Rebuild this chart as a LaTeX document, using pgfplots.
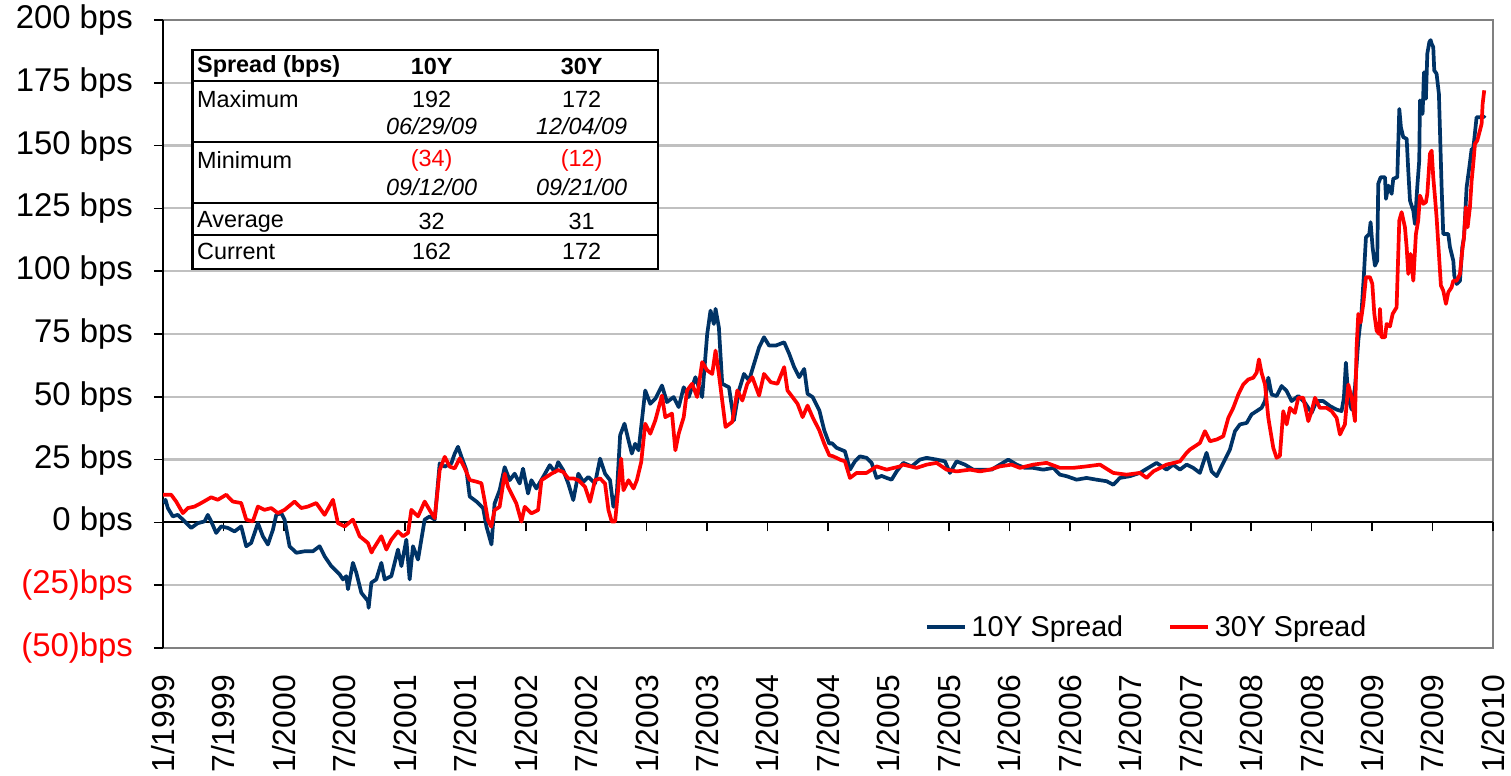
\documentclass[border=0pt]{standalone}
\usepackage{pgfplots}
\pgfplotsset{compat=1.18}
\usepackage{fontspec}
\setmainfont{Liberation Sans}
\definecolor{navy}{RGB}{0,51,102}
\definecolor{gridgray}{RGB}{192,192,192}
\definecolor{boxgray}{RGB}{128,128,128}
\begin{document}
\begin{tikzpicture}
\path[use as bounding box] (-163bp,-128bp) rectangle (1348bp,648bp);
% background axis: grid, box, tick labels
\begin{axis}[
  at={(0,0)}, anchor=south west,
  width=1330bp, height=628bp, scale only axis,
  xmin=0, xmax=132, ymin=-50, ymax=200,
  xtick={0,6,...,132},
  xticklabels={1/1999,7/1999,1/2000,7/2000,1/2001,7/2001,1/2002,7/2002,1/2003,7/2003,1/2004,7/2004,1/2005,7/2005,1/2006,7/2006,1/2007,7/2007,1/2008,7/2008,1/2009,7/2009,1/2010},
  ytick={-50,-25,0,25,50,75,100,125,150,175,200},
  yticklabels={\textcolor{red}{(50)bps},\textcolor{red}{(25)bps},0 bps,25 bps,50 bps,75 bps,100 bps,125 bps,150 bps,175 bps,200 bps},
  ymajorgrids, grid style={gridgray, line width=2.2bp},
  axis line style={boxgray, line width=2bp},
  major tick length=0pt, tick style={draw=none},
  xticklabel style={rotate=90, anchor=east, inner sep=0pt, font=\fontsize{32}{36}\selectfont},
  yticklabel style={anchor=east, inner sep=0pt, font=\fontsize{33}{38}\selectfont},
  xticklabel shift=27bp, yticklabel shift=30bp,
]
\end{axis}
% foreground axis: black axis lines with ticks, series, legend
\begin{axis}[
  at={(0,0)}, anchor=south west,
  width=1330bp, height=628bp, scale only axis,
  xmin=0, xmax=132, ymin=-50, ymax=200,
  axis x line=middle, axis y line=left,
  axis line style={-, black, line width=2bp},
  xtick={0,6,...,132}, ytick={-50,-25,0,25,50,75,100,125,150,175,200},
  xticklabels={}, yticklabels={},
  tick align=outside, major tick length=9bp,
  tick style={black, line width=1.6bp},
  legend columns=2,
  legend style={draw=none, fill=none, inner sep=0pt, outer sep=0pt,
    at={(0.5729,0.0334)}, anchor=west,
    font=\fontsize{28.8}{32}\selectfont,
    /tikz/every even column/.append style={column sep=43bp}},
  legend image code/.code={\draw[#1] (0bp,0bp) -- (38bp,0bp); \path (41bp,0bp);},
]
\addplot[navy, line width=3.7bp, line join=round] coordinates {
(0,7.7) (0.25,9) (0.48,5.7) (0.97,2.4) (1.47,3.0) (1.97,1.1) (2.79,-2.2) (3.46,-0.3) (4.12,0.4) (4.45,3.0) (4.78,0.4) (5.28,-4.2) (5.77,-1.6) (6.44,-2.2) (7.10,-3.6) (7.76,-1.6) (8.26,-9.5) (8.75,-8.2) (9.42,-0.3) (9.91,-5.5) (10.41,-8.8) (10.91,-2.9) (11.24,3.0) (11.74,3.7) (12.07,1.1) (12.56,-9.5) (13.23,-12.1) (14.05,-11.5) (14.88,-11.5) (15.54,-9.5) (16.04,-13.5) (16.70,-17.4) (17.20,-19.4) (17.53,-20.7) (17.86,-22.7) (18.19,-21.4) (18.36,-26.6) (18.85,-16.1) (19.19,-20.1) (19.68,-28.0) (20.34,-31.3) (20.41,-34) (20.68,-24.0) (21.17,-22.7) (21.67,-16.1) (22.00,-22.7) (22.66,-21.4) (23.32,-10.8) (23.66,-17.4) (24.15,-6.9) (24.48,-22.7) (24.81,-9.5) (25.31,-14.8) (25.97,1.1) (26.47,2.4) (26.97,1.1) (27.46,23.5) (27.96,22.2) (28.62,23.5) (28.95,27.4) (29.28,30.1) (29.62,26.1) (30.11,20.8) (30.44,10.3) (31.11,8.3) (31.77,5.7) (32.10,-1.6) (32.60,-8.8) (32.91,7.5) (33.41,12.8) (33.91,22) (34.41,16.8) (34.90,19.4) (35.40,15.5) (35.73,21.4) (36.23,11.5) (36.56,16.8) (37.06,13.5) (37.73,18.1) (38.39,22.8) (38.89,20) (39.22,24) (39.72,20.8) (40.22,15.5) (40.72,8.9) (41.22,19.4) (41.71,16.1) (42.21,18.1) (42.88,15.5) (43.38,25.4) (43.87,19.4) (44.37,16.8) (44.70,6.2) (45.04,11.5) (45.37,34.7) (45.80,39.3) (46.20,32.7) (46.53,27.4) (46.86,31.3) (47.20,28.7) (47.46,38) (47.86,52.5) (48.36,47.2) (48.86,49.2) (49.52,54.5) (50.02,47.9) (50.68,49.9) (51.18,45.9) (51.68,53.8) (52.18,49.9) (52.84,57.8) (53.51,49.9) (54.01,75) (54.34,84.3) (54.67,79) (54.84,85) (55.17,77.6) (55.50,55.2) (56.17,53.8) (56.66,40.6) (57.16,52.5) (57.66,59.1) (58.16,56.5) (58.66,63.1) (59.16,69.7) (59.65,73.7) (60.15,70.4) (60.82,70.4) (61.65,71.7) (62.15,67.1) (62.64,61.8) (63.14,57.8) (63.64,61.1) (63.97,51.2) (64.47,49.9) (65.14,44.6) (65.63,36.6) (66.13,31.3) (66.36,31.6) (66.85,29.7) (67.68,28.3) (68.18,21) (68.67,24.3) (69.17,26.3) (69.83,25.7) (70.33,23.7) (70.82,17.7) (71.32,18.5) (71.82,17.7) (72.31,17) (72.81,20.3) (73.47,23.7) (74.30,22.3) (75.12,25) (75.79,25.7) (76.78,25) (77.61,24.3) (78.10,19.7) (78.76,24.3) (79.59,23) (80.42,21) (81.41,21) (82.24,21) (83.06,23) (83.89,25) (84.72,23) (85.54,21.7) (86.37,21.7) (87.36,21) (88.36,21.7) (89.02,19) (89.68,18.4) (90.67,17) (91.66,17.7) (92.66,17) (93.65,16.4) (94.31,15) (94.97,17.7) (95.96,18.4) (96.96,19.7) (97.78,21.7) (98.61,23.7) (99.60,21) (100.26,23) (100.93,21) (101.59,23) (102.25,21.7) (102.91,19.7) (103.57,27.7) (104.07,20.3) (104.57,18.4) (105.89,29) (106.39,36.3) (106.88,39) (107.55,39.6) (108.04,43) (108.54,44.3) (109.03,45.6) (109.37,48.3) (109.70,57.6) (110.03,50.9) (110.52,50.3) (111.02,54.3) (111.52,52.3) (112.01,48.3) (112.67,50.3) (113.34,47.6) (114.0,43.6) (114.49,48.3) (115.15,48.3) (115.82,46.3) (116.48,44.9) (116.97,44.3) (117.2,49.6) (117.40,63.6) (117.64,49.6) (117.97,44.9) (118.30,53.6) (118.63,72.3) (118.96,84.3) (119.19,98.9) (119.39,113.5) (119.72,114.8) (119.85,119.5) (120.05,109.5) (120.28,102.2) (120.51,104.2) (120.61,134.8) (120.85,137.4) (121.28,137.4) (121.38,128.8) (121.61,134.1) (121.94,130.8) (122.10,136.8) (122.50,137.4) (122.70,164.6) (122.86,157.3) (123.09,153.4) (123.43,152.7) (123.59,140.1) (123.76,128.1) (124.09,124.1) (124.25,118.8) (124.48,133.4) (124.68,144.1) (124.75,168) (125.01,162.6) (125.15,179.2) (125.34,168.6) (125.48,186.6) (125.68,191.2) (125.81,192) (125.91,190.5) (126.07,189.2) (126.17,179.9) (126.40,178.6) (126.63,170.6) (126.90,133.4) (127.06,114.8) (127.56,114.8) (127.73,109.5) (128.06,104.2) (128.16,98.2) (128.39,94.9) (128.72,96.2) (128.95,109.5) (129.12,113.5) (129.38,133.4) (129.65,141.4) (129.88,148.7) (130.04,148.7) (130.37,161.3) (131.03,161.3) (131.2,162)
};
\addlegendentry{10Y Spread}
\addplot[red, line width=3.7bp, line join=round] coordinates {
(0,11) (0.81,11) (1.31,8.3) (1.97,3.7) (2.46,5.7) (3.13,6.3) (3.79,7.7) (4.78,10) (5.44,9) (6.27,11) (6.93,8.3) (7.76,7.7) (8.26,1.1) (8.92,0.4) (9.42,6.3) (10.08,5) (10.74,5.7) (11.40,3.7) (12.07,5) (13.06,8.3) (13.72,5.7) (14.38,6.3) (15.21,7.7) (16.04,3.0) (16.87,9) (17.36,-0.3) (18.03,-1.6) (18.85,1.1) (19.52,-5.5) (20.34,-8.2) (20.70,-12) (20.84,-10.8) (21.67,-5.5) (22.17,-10.8) (22.66,-6.9) (23.32,-3.6) (23.82,-5.5) (24.32,-4.2) (24.65,5) (25.31,2.4) (25.97,8.3) (26.64,3.7) (26.97,1.7) (27.46,20.8) (27.96,26.1) (28.46,22.2) (28.95,21.5) (29.45,25.5) (29.95,21.5) (30.44,16.9) (31.11,16.2) (31.60,15.6) (31.91,8.9) (32.25,0.9) (32.58,-1.7) (32.91,4.9) (33.41,6.2) (33.91,19.4) (34.24,14.2) (34.57,11.5) (35.07,7.5) (35.57,0.3) (35.90,6.2) (36.56,3.6) (37.23,4.9) (37.56,16.8) (38.06,18.1) (38.56,19.4) (39.22,20.8) (39.72,20.1) (40.22,17.5) (40.72,17.5) (41.22,16.8) (41.88,14.2) (42.38,8.2) (42.88,16.8) (43.38,17.5) (43.87,15.5) (44.21,4.9) (44.54,0.3) (44.87,0.3) (45.20,14.2) (45.47,25.4) (45.70,12.8) (46.20,16.8) (46.70,13.5) (47.03,16.8) (47.46,24) (47.86,39.3) (48.36,35.3) (48.86,40.6) (49.52,50.5) (49.85,41.9) (50.52,43.3) (50.85,28.7) (51.18,35.3) (51.68,41.9) (52.01,52.5) (52.51,55.2) (53.01,49.9) (53.51,63.8) (54.01,60.5) (54.51,59.1) (54.84,68.4) (55.17,59.1) (55.50,48.5) (55.83,38) (56.50,40) (57.00,52.5) (57.50,48.5) (57.99,55.2) (58.49,57.8) (59.16,50.5) (59.65,59.1) (60.32,55.8) (60.98,55.2) (61.65,61.8) (61.98,52.5) (62.48,49.9) (62.98,47.2) (63.48,41.9) (63.97,46.5) (64.47,41.9) (65.14,36.6) (65.63,31.3) (66.13,26.7) (66.52,26.3) (67.18,25) (67.68,24.3) (68.18,17.7) (68.84,19.7) (69.83,19.7) (70.33,21) (70.82,22.3) (71.82,21) (73.14,22.3) (73.47,23) (74.79,21.7) (75.79,23) (76.78,23.7) (77.77,21) (78.76,20.3) (80.09,21) (81.08,20.3) (82.07,21) (83.06,22.3) (84.22,23) (85.05,21.7) (86.37,23) (87.69,23.7) (89.02,21.7) (90.34,21.7) (91.66,22.3) (92.99,23) (94.31,19.7) (95.63,19) (96.96,19.7) (97.62,17.7) (98.28,20.3) (99.60,23) (100.93,24.3) (101.59,27.7) (101.92,29) (102.91,31.6) (103.41,36.3) (103.91,32.3) (104.57,33) (105.23,34.3) (105.73,41.6) (106.22,45.6) (106.72,50.9) (107.21,54.9) (107.71,56.9) (108.21,57.6) (108.54,59.6) (108.77,64.9) (109.03,59.6) (109.37,54.9) (109.70,41.6) (110.19,29.7) (110.52,25.7) (110.85,26.5) (111.18,44.3) (111.52,39) (111.85,45.6) (112.34,43.6) (112.67,49.6) (113.17,49.6) (113.67,40.3) (114.0,44.3) (114.33,49.6) (114.82,45.6) (115.49,45.6) (115.98,44.3) (116.48,41.6) (116.81,35) (117.30,39) (117.64,54.9) (117.97,49.6) (118.30,40.3) (118.46,69.7) (118.63,83) (118.86,79.6) (119.13,87) (119.39,97.6) (119.79,97.6) (120.02,95) (120.22,83) (120.45,76.3) (120.71,75) (120.78,85) (120.94,73.7) (121.28,73.7) (121.44,79) (121.77,78) (122.04,83) (122.43,85.6) (122.70,120.2) (122.93,123.5) (123.26,117.5) (123.43,109.5) (123.59,98.9) (123.82,106.9) (124.09,96.2) (124.35,114.8) (124.58,120.2) (124.75,130.1) (125.08,126.8) (125.34,127.5) (125.48,130.8) (125.74,146.7) (125.91,148) (126.07,137.4) (126.24,129.5) (126.40,121.5) (126.63,106.9) (126.83,94.3) (127.06,92.3) (127.33,87) (127.56,91.6) (127.89,93.6) (128.06,96.2) (128.39,96.2) (128.72,98.9) (128.95,108.2) (129.12,113.5) (129.31,125.5) (129.48,117.5) (129.71,125.5) (129.88,136.1) (130.04,142.7) (130.21,150.7) (130.44,152) (130.70,156) (130.87,158.7) (130.97,166.6) (131.13,172)
};
\addlegendentry{30Y Spread}
\end{axis}
% statistics table
\begin{scope}[font=\fontsize{23.5}{27}\selectfont]
\fill[white] (29.3bp,378.7bp) rectangle (494.7bp,598bp);
\draw[black, line width=2.4bp] (29.3bp,378.7bp) rectangle (494.7bp,598bp);
\foreach \yy in {567.3,506.3,444.7,413} {\draw[black, line width=2.2bp] (29.3bp,\yy bp) -- (494.7bp,\yy bp);}
\node[anchor=west, inner sep=0pt] at (34bp,581.3bp) {\bfseries Spread (bps)};
\node[inner sep=0pt] at (268.7bp,581.3bp) {\bfseries 10Y};
\node[inner sep=0pt] at (418.7bp,581.3bp) {\bfseries 30Y};
\node[anchor=west, inner sep=0pt] at (34bp,548.7bp) {Maximum};
\node[inner sep=0pt] at (268.7bp,548.7bp) {192};
\node[inner sep=0pt] at (418.7bp,548.7bp) {172};
\node[inner sep=0pt] at (268.7bp,522bp) {\itshape 06/29/09};
\node[inner sep=0pt] at (418.7bp,522bp) {\itshape 12/04/09};
\node[anchor=west, inner sep=0pt] at (34bp,488bp) {Minimum};
\node[inner sep=0pt, text=red] at (268.7bp,488bp) {(34)};
\node[inner sep=0pt, text=red] at (418.7bp,488bp) {(12)};
\node[inner sep=0pt] at (268.7bp,461.3bp) {\itshape 09/12/00};
\node[inner sep=0pt] at (418.7bp,461.3bp) {\itshape 09/21/00};
\node[anchor=west, inner sep=0pt] at (34bp,426.3bp) {Average};
\node[inner sep=0pt] at (268.7bp,426.3bp) {32};
\node[inner sep=0pt] at (418.7bp,426.3bp) {31};
\node[anchor=west, inner sep=0pt] at (34bp,396.3bp) {Current};
\node[inner sep=0pt] at (268.7bp,396.3bp) {162};
\node[inner sep=0pt] at (418.7bp,396.3bp) {172};
\end{scope}
\end{tikzpicture}
\end{document}
